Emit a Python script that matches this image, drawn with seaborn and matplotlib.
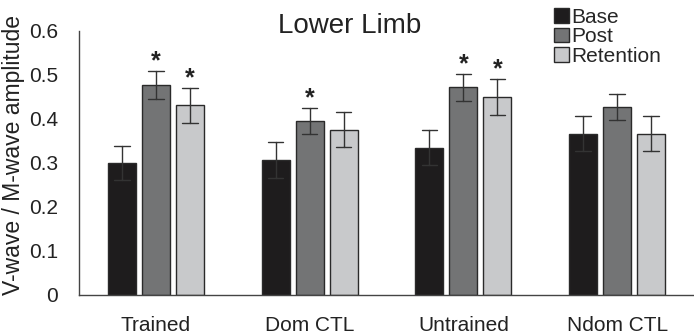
import numpy as np
import pandas as pd
import matplotlib
matplotlib.use("Agg")
import matplotlib.pyplot as plt
import seaborn as sns

groups = ["Trained", "Dom CTL", "Untrained", "Ndom CTL"]
conditions = ["Base", "Post", "Retention"]
base_mean = [0.300, 0.307, 0.335, 0.367]
base_err = [0.039, 0.040, 0.040, 0.040]
post_mean = [0.477, 0.396, 0.472, 0.427]
post_err = [0.031, 0.030, 0.030, 0.030]
ret_mean = [0.431, 0.376, 0.450, 0.367]
ret_err = [0.040, 0.040, 0.040, 0.040]
significant = {"Base": [0, 0, 0, 0], "Post": [1, 1, 1, 0], "Retention": [1, 0, 1, 0]}

means = {"Base": base_mean, "Post": post_mean, "Retention": ret_mean}
errs = {"Base": base_err, "Post": post_err, "Retention": ret_err}

rows = []
for c in conditions:
    for g, m, e in zip(groups, means[c], errs[c]):
        rows.append({"group": g, "cond": c, "val": m - e})
        rows.append({"group": g, "cond": c, "val": m + e})
df = pd.DataFrame(rows)

sns.set_theme(style="white")
plt.rcParams["font.family"] = ["Liberation Sans", "DejaVu Sans"]

palette = {"Base": "#1e1c1d", "Post": "#737475", "Retention": "#c8c9cb"}

fig = plt.figure(figsize=(6.94, 3.36), dpi=100)
ax = fig.add_axes([79 / 694, 41 / 336, 615 / 694, 264 / 336])

sns.barplot(data=df, x="group", y="val", hue="cond", order=groups,
            hue_order=conditions, palette=palette, estimator="mean",
            errorbar=("pi", 100), width=0.663, gap=0.18, capsize=0.3,
            edgecolor="#2a2a2a", linewidth=1.0, saturation=1,
            err_kws={"color": "#333333", "linewidth": 1.0}, ax=ax)

ax.set_ylim(0, 0.6)
ax.set_xlim(-0.5, 3.5)
ax.set_yticks([0, 0.1, 0.2, 0.3, 0.4, 0.5, 0.6])
ax.set_yticklabels(["0", "0.1", "0.2", "0.3", "0.4", "0.5", "0.6"])
ax.tick_params(axis="y", length=0, labelsize=15, pad=15, colors="#222222")
ax.tick_params(axis="x", length=0, labelsize=15, pad=15, colors="#222222")
ax.set_xlabel("")
ax.set_ylabel("V-wave / M-wave amplitude", fontsize=16.5, color="#222222")
ax.yaxis.set_label_coords(-54 / 615, 0.53)
for s in ["top", "right"]:
    ax.spines[s].set_visible(False)
for s in ["left", "bottom"]:
    ax.spines[s].set_color("#444444")
    ax.spines[s].set_linewidth(1.0)

# asterisks
for cont, c in zip(ax.containers, conditions):
    for patch, m, e, s in zip(cont.patches, means[c], errs[c], significant[c]):
        if s:
            xc = patch.get_x() + patch.get_width() / 2
            ax.text(xc, m + e + 0.022, "*", ha="center", va="center",
                    fontsize=18, fontweight="bold", color="#222222")

leg = ax.legend(loc="upper left", bbox_to_anchor=(554 / 694, 328 / 336),
                bbox_transform=fig.transFigure, frameon=False, fontsize=15,
                handlelength=0.7, handleheight=0.7, handletextpad=0.15,
                labelspacing=0.02, borderaxespad=0, borderpad=0)
for h in leg.legend_handles:
    h.set_edgecolor("#2a2a2a")
    h.set_linewidth(1.0)

fig.text(350 / 694, 303 / 336, "Lower Limb", ha="center", va="baseline",
         fontsize=20, color="#222222")

fig.savefig("out.png", dpi=100)
